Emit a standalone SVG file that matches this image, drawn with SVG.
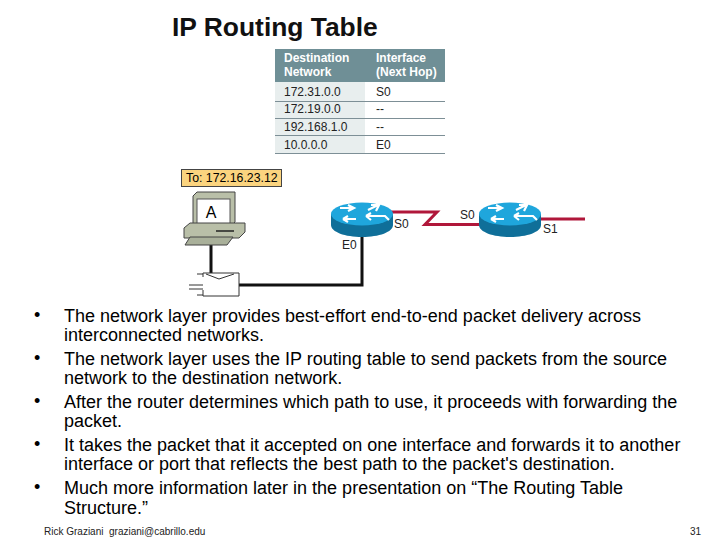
<svg xmlns="http://www.w3.org/2000/svg" width="720" height="540" viewBox="0 0 720 540">
<defs>
<style>
text{font-family:"Liberation Sans",Arial,sans-serif;fill:#000}
.title{font-size:26.400px;font-weight:bold;fill:#111}
.th{font-size:12px;font-weight:bold;fill:#fff}
.td{font-size:12px;fill:#222}
.lbl{font-size:12px;fill:#222}
.b{font-size:18px}
.bul{font-size:18px}
.foot{font-size:10px;fill:#222;white-space:pre}
.rule{stroke:#7d8f96;stroke-width:1}
.kw{fill:none;stroke:#111;stroke-width:3}
.ser{fill:none;stroke:#b0173a;stroke-width:3}
.arrow{fill:none;stroke:#fff;stroke-width:2.2}
</style>
<g id="routerShape">
<path d="M0 12V23C0 30 14 35 31 35S62 30 62 23V12Z" fill="#0f6f99"/>
<ellipse cx="31" cy="12" rx="31" ry="11.500" fill="#1fa6dc"/>
<path class="arrow" d="M9 6H22M17 3L23 6L17 9M12 17H25M12 17L17 14M12 17L17 20M37 8L47 3M40 3H48L45 9M35 14H54L58 18M35 14L40 11M35 14L40 18"/>
</g>
</defs>
<rect width="720" height="540" fill="#fff"/>
<text class="title" x="172" y="36">IP Routing Table</text>
<g id="routing-table">
<rect x="275" y="49" width="170" height="33" fill="#6f8f96"/>
<rect x="275" y="82" width="90" height="71" fill="#e8eeee"/>
<text class="th" x="284" y="62">Destination</text><text class="th" x="284" y="76">Network</text>
<text class="th" x="376" y="62">Interface</text><text class="th" x="376" y="76">(Next Hop)</text>
<text class="td" x="284" y="96">172.31.0.0</text><text class="td" x="376" y="96">S0</text>
<text class="td" x="284" y="113">172.19.0.0</text><text class="td" x="376" y="113">--</text>
<text class="td" x="284" y="131">192.168.1.0</text><text class="td" x="376" y="131">--</text>
<text class="td" x="284" y="149">10.0.0.0</text><text class="td" x="376" y="149">E0</text>
<path class="rule" d="M275 101.500H445M275 118.500H445M275 135.500H445M275 153.500H445"/>
</g>
<g id="connectors">
<path class="kw" d="M211 245V275"/>
<path class="kw" d="M238 285H362V236"/>
<path class="ser" d="M391 212H437L425 224.500H480"/>
<path class="ser" d="M540 219H585"/>
</g>
<g id="address-label">
<rect x="181.500" y="169.500" width="100" height="17" fill="#fbd47f" stroke="#444"/>
<text x="186" y="182" font-size="12.300" fill="#222">To: 172.16.23.12</text>
</g>
<g id="host-a">
<path d="M193 196L197 192H235V222L230 227H193Z" fill="#b9bfa8" stroke="#444"/>
<rect x="197" y="199" width="33" height="26" fill="#fff" stroke="#555"/>
<text x="211" y="218" font-size="16" text-anchor="middle">A</text>
<path d="M184 228L190 223H245V232L239 238H184Z" fill="#b9bfa8" stroke="#444"/>
<path d="M216 231H234" stroke="#222" stroke-width="1.500"/>
<path d="M190 237H233L227 245H185Z" fill="#a9b09a" stroke="#444"/>
</g>
<g id="packet">
<path d="M203 273H239V296H203V290M203 273V277" fill="#fff" stroke="#333"/>
<path d="M206 274L219 279L234 274" fill="none" stroke="#333"/>
<path d="M197 274H203M189 285H203M189 289H203M197 295H203" stroke="#333"/>
</g>
<g id="router-1">
<use href="#routerShape" x="331" y="202"/>
<text class="lbl" x="394" y="228">S0</text>
<text class="lbl" x="342" y="249">E0</text>
</g>
<g id="router-2">
<use href="#routerShape" x="479" y="202"/>
<text class="lbl" x="460" y="219">S0</text>
<text class="lbl" x="543" y="233">S1</text>
</g>
<g id="bullets">
<text class="bul" x="34" y="321">•</text><text class="bul" x="34" y="364">•</text><text class="bul" x="34" y="407">•</text><text class="bul" x="34" y="450">•</text><text class="bul" x="34" y="493">•</text>
<text class="b" x="64" y="322">The network layer provides best-effort end-to-end packet delivery across</text>
<text class="b" x="64" y="341">interconnected networks.</text>
<text class="b" x="64" y="365">The network layer uses the IP routing table to send packets from the source</text>
<text class="b" x="64" y="384">network to the destination network.</text>
<text class="b" x="64" y="408">After the router determines which path to use, it proceeds with forwarding the</text>
<text class="b" x="64" y="427">packet.</text>
<text class="b" x="64" y="451">It takes the packet that it accepted on one interface and forwards it to another</text>
<text class="b" x="64" y="470">interface or port that reflects the best path to the packet's destination.</text>
<text class="b" x="64" y="494">Much more information later in the presentation on “The Routing Table</text>
<text class="b" x="64" y="514">Structure.”</text>
</g>
<text class="foot" x="44" y="535">Rick Graziani  graziani@cabrillo.edu</text>
<text class="foot" x="690" y="535">31</text>
</svg>
